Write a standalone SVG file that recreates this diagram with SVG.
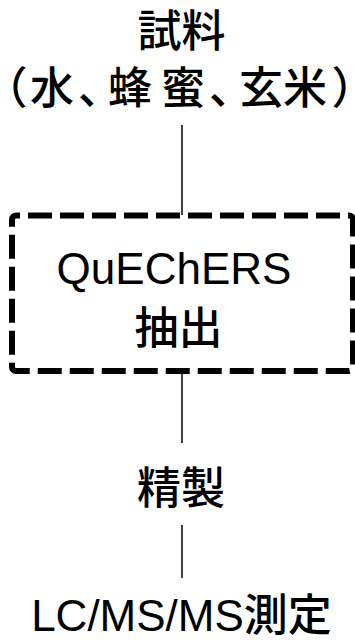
<svg xmlns="http://www.w3.org/2000/svg" width="355" height="642" viewBox="0 0 355 642">
<style>
  .t { font-family: "Liberation Sans", "Noto Sans CJK JP", sans-serif; font-size: 44px; fill: #000; }
  .j { font-weight: 500; }
  .c { text-anchor: middle; }
  .palt { font-feature-settings: "palt"; }
  .conn { stroke: #000; stroke-width: 1.5; fill: none; }
  .box { fill: none; stroke: #000; stroke-width: 6; stroke-dasharray: 24 8; stroke-dashoffset: 20; }
</style>
<rect width="355" height="642" fill="#fff"/>
<g id="connectors">
  <line class="conn" x1="182" y1="125" x2="182" y2="215"/>
  <line class="conn" x1="182" y1="372" x2="182" y2="443"/>
  <line class="conn" x1="182" y1="525" x2="182" y2="578"/>
</g>
<g id="sample">
  <text class="t c j" x="181.5" y="47">試料</text>
  <text class="t j" y="104"><tspan class="palt" x="4">（</tspan><tspan x="30 78 108 161 209 239 283">水、蜂蜜、玄米</tspan><tspan class="palt" x="333">）</tspan></text>
</g>
<g id="extraction">
  <rect class="box" x="12" y="215.5" width="341" height="155.5" rx="4"/>
  <text class="t c" x="174" y="284">QuEChERS</text>
  <text class="t c j" x="178.5" y="344">抽出</text>
</g>
<g id="cleanup">
  <text class="t c j" x="181" y="504">精製</text>
</g>
<g id="measurement">
  <text class="t c" x="181.5" y="631">LC/MS/MS<tspan class="j">測定</tspan></text>
</g>
</svg>
